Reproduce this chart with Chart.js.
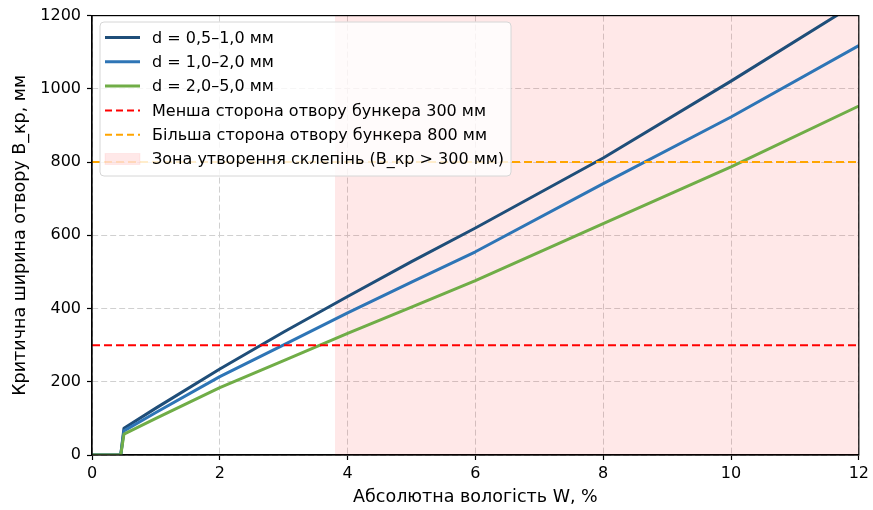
<!DOCTYPE html>
<html><head><meta charset="utf-8">
<script src="https://cdn.jsdelivr.net/npm/chart.js@4.4.0/dist/chart.umd.min.js"></script>
<style>html,body{margin:0;padding:0;background:#fff;}#wrap{width:873px;height:510px;}</style>
</head><body><div id="wrap"><canvas id="c" width="873" height="510"></canvas></div>
<script>
// Абсолютна вологість W, %
const W = [0, 0.45, 0.5, 1, 2, 3, 4, 5, 6, 8, 10, 12];
// Критична ширина отвору B_кр, мм
const B_fine   = [0, 0, 73, 128, 235, 336, 433, 528, 620, 811, 1021, 1238];
const B_medium = [0, 0, 66, 116, 214, 301, 388, 472, 555, 741, 923, 1118];
const B_coarse = [0, 0, 57, 100, 184, 258, 332, 404, 476, 632, 787, 953];
const seriesLabels = ['d = 0,5–1,0 мм', 'd = 1,0–2,0 мм', 'd = 2,0–5,0 мм'];
const smallSide = 300;
const largeSide = 800;
const lineLabels = ['Менша сторона отвору бункера 300 мм', 'Більша сторона отвору бункера 800 мм'];
const zoneStart = 3.8;
const zoneLabel = 'Зона утворення склепінь (В_кр > 300 мм)';
const xTicks = [0, 2, 4, 6, 8, 10, 12];
const yTicks = [0, 200, 400, 600, 800, 1000, 1200];
const xTitle = 'Абсолютна вологість W, %';
const yTitle = 'Критична ширина отвору В_кр, мм';

const FONT = 'DejaVu Sans';
Chart.defaults.font.family = FONT;
Chart.defaults.color = '#000';

const xMin = xTicks[0], xMax = xTicks[xTicks.length - 1];
const yMin = yTicks[0], yMax = yTicks[yTicks.length - 1];
const toXY = (xs, ys) => xs.map((x, i) => ({ x, y: ys[i] }));

const COLORS = ['#1f4e79', '#2e75b6', '#70ad47'];
const ZONE_FILL = 'rgba(255, 0, 0, 0.09)';

const datasets = [
  { label: seriesLabels[0], data: toXY(W, B_fine), borderColor: COLORS[0], borderWidth: 3, kind: 'line', order: 5 },
  { label: seriesLabels[1], data: toXY(W, B_medium), borderColor: COLORS[1], borderWidth: 3, kind: 'line', order: 4 },
  { label: seriesLabels[2], data: toXY(W, B_coarse), borderColor: COLORS[2], borderWidth: 3, kind: 'line', order: 3 },
  { label: lineLabels[0], data: [{x: xMin, y: smallSide}, {x: xMax, y: smallSide}], borderColor: '#ff0000', borderWidth: 2, borderDash: [8, 4], kind: 'dash', order: 2 },
  { label: lineLabels[1], data: [{x: xMin, y: largeSide}, {x: xMax, y: largeSide}], borderColor: '#ffa500', borderWidth: 2, borderDash: [8, 4], kind: 'dash', order: 1 },
  { label: zoneLabel, data: [{x: zoneStart, y: yMax}, {x: xMax, y: yMax}], borderWidth: 0, borderColor: 'rgba(0,0,0,0)', backgroundColor: ZONE_FILL, fill: 'origin', kind: 'patch', order: 10 }
].map(d => Object.assign({ pointRadius: 0, tension: 0, fill: false, borderJoinStyle: 'round' }, d));

const frame = {
  id: 'frame',
  afterDatasetsDraw(chart) {
    const { ctx, chartArea: a } = chart;
    ctx.save();
    ctx.strokeStyle = '#000';
    ctx.lineWidth = 1.2;
    ctx.setLineDash([]);
    ctx.strokeRect(a.left, a.top, a.right - a.left, a.bottom - a.top);
    ctx.restore();
  }
};

const boxLegend = {
  id: 'boxLegend',
  afterDraw(chart) {
    const ctx = chart.ctx;
    const x0 = 100, y0 = 22, w = 411, h = 154, r = 4;
    ctx.save();
    ctx.beginPath();
    ctx.moveTo(x0 + r, y0);
    ctx.arcTo(x0 + w, y0, x0 + w, y0 + h, r);
    ctx.arcTo(x0 + w, y0 + h, x0, y0 + h, r);
    ctx.arcTo(x0, y0 + h, x0, y0, r);
    ctx.arcTo(x0, y0, x0 + w, y0, r);
    ctx.closePath();
    ctx.fillStyle = 'rgba(255,255,255,0.8)';
    ctx.fill();
    ctx.strokeStyle = '#d6d6d6';
    ctx.lineWidth = 1;
    ctx.stroke();
    ctx.font = '16px "' + FONT + '"';
    ctx.textBaseline = 'middle';
    ctx.textAlign = 'left';
    chart.data.datasets.forEach((d, i) => {
      const y = 37.5 + i * 24.3;
      const hx0 = 105, hx1 = 140;
      if (d.kind === 'patch') {
        ctx.fillStyle = d.backgroundColor;
        ctx.fillRect(hx0, y - 5.5, hx1 - hx0, 11);
        ctx.strokeStyle = 'rgba(255, 0, 0, 0.06)';
        ctx.lineWidth = 1;
        ctx.strokeRect(hx0, y - 5.5, hx1 - hx0, 11);
      } else {
        ctx.beginPath();
        ctx.setLineDash(d.borderDash ? [7, 4] : []);
        ctx.strokeStyle = d.borderColor;
        ctx.lineWidth = d.borderWidth;
        ctx.moveTo(hx0, y);
        ctx.lineTo(hx1, y);
        ctx.stroke();
        ctx.setLineDash([]);
      }
      ctx.fillStyle = '#000';
      ctx.fillText(d.label, 152, y + 1);
    });
    ctx.restore();
  }
};

const gridOpts = {
  color: '#d0d0d0',
  lineWidth: 1,
  drawTicks: true,
  tickLength: 5,
  tickColor: '#000',
  tickWidth: 1.2,
  tickBorderDash: []
};
const borderOpts = { display: true, color: '#000', width: 1.2, dash: [6, 3] };

new Chart(document.getElementById('c'), {
  type: 'line',
  data: { datasets },
  options: {
    responsive: false,
    animation: false,
    devicePixelRatio: 1,
    layout: { padding: { top: 15, right: 11, left: 0, bottom: 0 } },
    plugins: { legend: { display: false }, tooltip: { enabled: false }, title: { display: false } },
    scales: {
      x: {
        type: 'linear', min: xMin, max: xMax,
        afterFit: s => { s.height = 55; },
        afterBuildTicks: s => { s.ticks = xTicks.map(v => ({ value: v })); },
        ticks: { font: { size: 16 }, color: '#000', padding: 4, maxRotation: 0, callback: v => String(v) },
        grid: gridOpts,
        border: borderOpts,
        title: { display: true, text: xTitle, font: { size: 17.5 }, color: '#000', padding: { top: 0, bottom: 2 } }
      },
      y: {
        type: 'linear', min: yMin, max: yMax,
        afterFit: s => { s.width = 92; },
        afterBuildTicks: s => { s.ticks = yTicks.map(v => ({ value: v })); },
        ticks: { font: { size: 16 }, color: '#000', padding: 6, callback: v => String(v) },
        grid: gridOpts,
        border: borderOpts,
        title: { display: true, text: yTitle, font: { size: 17.5 }, color: '#000', padding: { top: 10, bottom: 0 } }
      }
    }
  },
  plugins: [frame, boxLegend]
});
</script>
</body></html>
